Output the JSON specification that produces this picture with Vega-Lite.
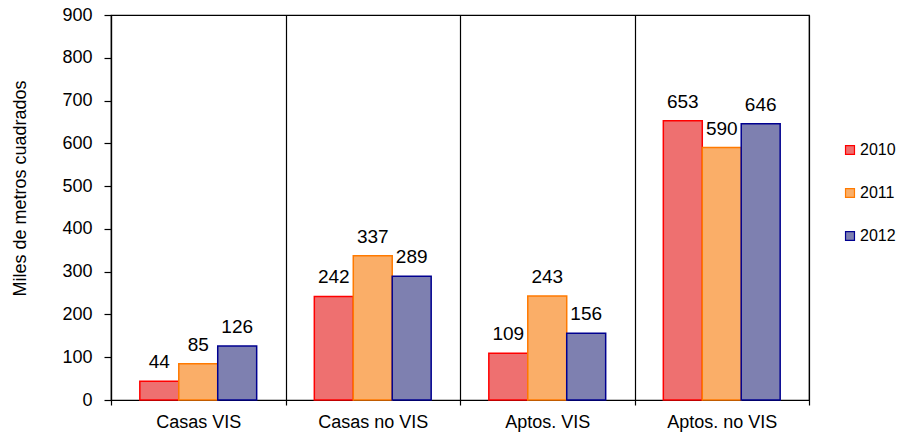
{
  "$schema": "https://vega.github.io/schema/vega-lite/v6.json",
  "width": 698,
  "height": 385,
  "autosize": {"type": "none"},
  "padding": {"left": 111, "top": 15, "right": 89, "bottom": 35},
  "background": "white",
  "config": {
    "font": "Liberation Sans",
    "view": {"stroke": "black", "strokeWidth": 1.2},
    "axis": {"labelFont": "Liberation Sans", "titleFont": "Liberation Sans", "labelColor": "black", "titleColor": "black", "domainColor": "black", "tickColor": "black"}
  },
  "data": {
    "values": [
      {"cat": "Casas VIS", "year": "2010", "value": 44},
      {"cat": "Casas VIS", "year": "2011", "value": 85},
      {"cat": "Casas VIS", "year": "2012", "value": 126},
      {"cat": "Casas no VIS", "year": "2010", "value": 242},
      {"cat": "Casas no VIS", "year": "2011", "value": 337},
      {"cat": "Casas no VIS", "year": "2012", "value": 289},
      {"cat": "Aptos. VIS", "year": "2010", "value": 109},
      {"cat": "Aptos. VIS", "year": "2011", "value": 243},
      {"cat": "Aptos. VIS", "year": "2012", "value": 156},
      {"cat": "Aptos. no VIS", "year": "2010", "value": 653},
      {"cat": "Aptos. no VIS", "year": "2011", "value": 590},
      {"cat": "Aptos. no VIS", "year": "2012", "value": 646}
    ]
  },
  "encoding": {
    "x": {
      "field": "cat", "type": "nominal", "sort": null,
      "scale": {"paddingInner": 0, "paddingOuter": 0},
      "axis": {"title": null, "labelAngle": 0, "labelFontSize": 18, "tickBand": "extent", "grid": true, "gridColor": "black", "gridOpacity": 1, "gridWidth": 1.2, "tickSize": 5, "tickWidth": 1.2, "domainWidth": 1.2, "labelPadding": 8}
    },
    "xOffset": {"field": "year", "type": "nominal", "scale": {"paddingOuter": 0.74, "paddingInner": 0}},
    "y": {
      "field": "value", "type": "quantitative",
      "scale": {"domain": [0, 900], "nice": false},
      "axis": {"title": "Miles de metros cuadrados", "values": [0,100,200,300,400,500,600,700,800,900], "grid": false, "labelFontSize": 18, "titleFontSize": 18, "titleFontWeight": "normal", "titleY": 173, "tickSize": 7, "tickWidth": 1.2, "domainWidth": 1.2, "labelPadding": 12, "titlePadding": 32}
    }
  },
  "layer": [
    {
      "mark": {"type": "bar", "strokeWidth": 1.5},
      "encoding": {
        "fill": {"field": "year", "type": "nominal", "scale": {"domain": ["2010","2011","2012"], "range": ["#EE7070", "#FAAE68", "#7E80B0"]},
          "legend": {"title": null, "orient": "none", "legendX": 731, "legendY": 127, "labelFontSize": 16, "symbolType": "square", "symbolSize": 80, "rowPadding": 27, "labelOffset": 2, "symbolStrokeWidth": 1.2}},
        "stroke": {"field": "year", "type": "nominal", "scale": {"domain": ["2010","2011","2012"], "range": ["#FF0000", "#FF7A00", "#000090"]}}
      }
    },
    {
      "mark": {"type": "text", "baseline": "bottom", "dy": -9, "fontSize": 19, "color": "black"},
      "encoding": {"text": {"field": "value", "type": "quantitative"}}
    }
  ]
}
